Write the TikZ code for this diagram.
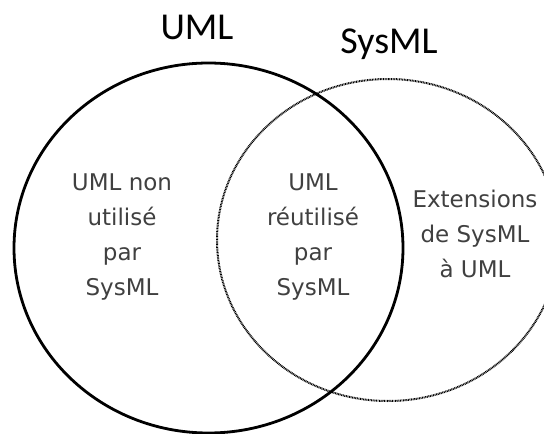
\documentclass[tikz,border=0pt]{standalone}
\usepackage{fontspec}
\setmainfont{Carlito}
\newfontfamily\handfont{DejaVu Sans}
\usetikzlibrary{positioning}

\begin{document}
\begin{tikzpicture}[x=1pt,y=-1pt]
  \tikzset{title/.style={anchor=base,font=\fontsize{38}{40}\selectfont},
    zone/.style={align=center,text=black!75,inner sep=0pt,font=\handfont\fontsize{23}{35}\selectfont}}
  \useasboundingbox (0,0) rectangle (544,434);
  \clip (0,0) rectangle (544,434);
  % the two sets
  \draw[line width=2pt,black,dash pattern=on 0.9pt off 0.7pt] (388,240) ellipse [x radius=171,y radius=161];
  \draw[line width=2.8pt] (208.5,248) ellipse [x radius=194.5,y radius=185];
  \node[title] (uml) at (197,39) {UML};
  \node[title] (sysml) at (389,53) {SysML};
  \node[zone] (only) at (122,237) {UML non\\utilisé\\par\\SysML};
  \node[zone] (both) at (313,237) {UML\\réutilisé\\par\\SysML};
  \node[zone] (ext) at (475,234) {Extensions\\de SysML\\à UML};
\end{tikzpicture}
\end{document}
